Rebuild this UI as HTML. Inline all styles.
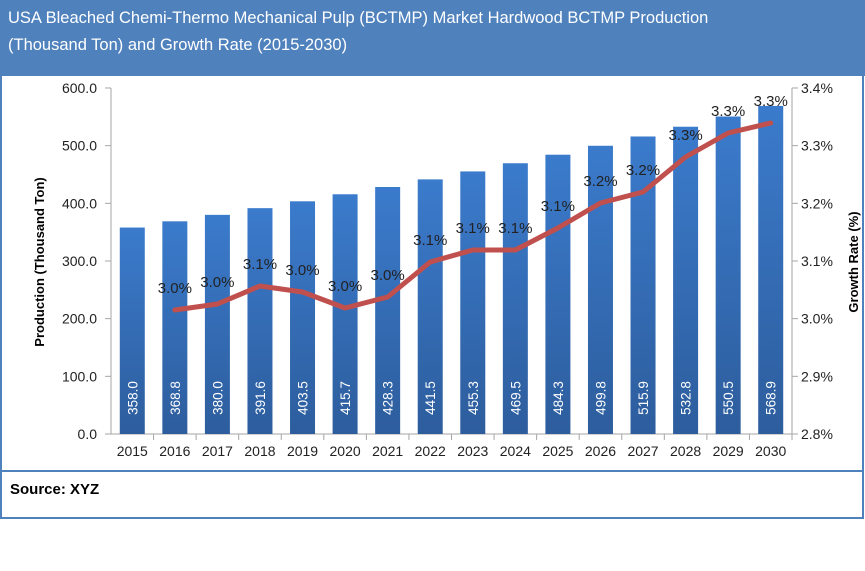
<!DOCTYPE html>
<html><head><meta charset="utf-8"><style>
body{margin:0;background:#fff;width:865px;height:566px;overflow:hidden;font-family:"Liberation Sans","DejaVu Sans",sans-serif}
</style></head><body>
<svg width="865" height="566" viewBox="0 0 865 566" xmlns="http://www.w3.org/2000/svg" font-family="Liberation Sans, DejaVu Sans, sans-serif">
<defs><linearGradient id="g" x1="0" y1="0" x2="0" y2="1"><stop offset="0" stop-color="#3b7bcc"/><stop offset="1" stop-color="#2d5d9d"/></linearGradient></defs>
<rect x="0" y="0" width="865" height="76" fill="#4f81bd"/>
<text x="8" y="23" font-size="16.5" fill="#fff">USA Bleached Chemi-Thermo Mechanical Pulp (BCTMP) Market Hardwood BCTMP Production</text>
<text x="8" y="50" font-size="16.5" fill="#fff">(Thousand Ton) and Growth Rate (2015-2030)</text>
<rect x="1" y="1" width="862" height="517" fill="none" stroke="#4f81bd" stroke-width="2"/>
<line x1="1" y1="471" x2="863" y2="471" stroke="#4f81bd" stroke-width="2"/>
<text x="10" y="494" font-size="15" font-weight="bold">Source: XYZ</text>
<g stroke="#a6a6a6" stroke-width="1">
<line x1="111" y1="88" x2="111" y2="434"/><line x1="792" y1="88" x2="792" y2="434"/><line x1="111" y1="434" x2="792" y2="434"/>
</g>
<text transform="translate(44,262) rotate(-90)" font-size="13" font-weight="bold" text-anchor="middle">Production (Thousand Ton)</text>
<text transform="translate(858,262) rotate(-90)" font-size="13" font-weight="bold" text-anchor="middle">Growth Rate (%)</text>
</svg>
<script>
var s="http://www.w3.org/2000/svg",svg=document.querySelector("svg");
function el(t,a,txt){var e=document.createElementNS(s,t);for(var k in a)e.setAttribute(k,a[k]);if(txt!=null)e.textContent=txt;svg.appendChild(e);return e;}
for(var i=0;i<=6;i++){var y=434-i*57.67;
el("line",{x1:105,y1:y,x2:111,y2:y,stroke:"#a6a6a6"});
el("text",{x:97,y:y+5,"font-size":14,fill:"#222","text-anchor":"end"},(i*100).toFixed(1));
el("line",{x1:792,y1:y,x2:798,y2:y,stroke:"#a6a6a6"});
el("text",{x:801,y:y+5,"font-size":14,fill:"#222"},(2.8+i*0.1).toFixed(1)+"%");}
var v=[358.0,368.8,380.0,391.6,403.5,415.7,428.3,441.5,455.3,469.5,484.3,499.8,515.9,532.8,550.5,568.9];
var ly=[null,310,304,286,292,308,297,262,250,250,228,203,192,157,133,123];
var lb=[null,"3.0%","3.0%","3.1%","3.0%","3.0%","3.0%","3.1%","3.1%","3.1%","3.1%","3.2%","3.2%","3.3%","3.3%","3.3%"];
var w=681/16,pts=[];
for(var i=0;i<16;i++){var cx=111+w*(i+0.5),h=v[i]*0.5767;
el("rect",{x:cx-12.5,y:434-h,width:25,height:h,fill:"url(#g)"});
el("line",{x1:111+w*(i+1),y1:434,x2:111+w*(i+1),y2:440,stroke:"#a6a6a6"});
el("text",{x:cx,y:456,"font-size":14,fill:"#222","text-anchor":"middle"},2015+i);
el("text",{transform:"translate("+(cx+5)+",398) rotate(-90)","font-size":13.5,fill:"#fff","text-anchor":"middle"},v[i].toFixed(1));
if(ly[i]){pts.push(cx+","+ly[i]);}}
el("polyline",{points:pts.join(" "),fill:"none",stroke:"#c0504d","stroke-width":5,"stroke-linejoin":"round","stroke-linecap":"round"});
for(var i=1;i<16;i++){var cx=111+w*(i+0.5);el("text",{x:cx,y:ly[i]-17,"font-size":15,fill:"#222","text-anchor":"middle"},lb[i]);}
</script>
</body></html>
